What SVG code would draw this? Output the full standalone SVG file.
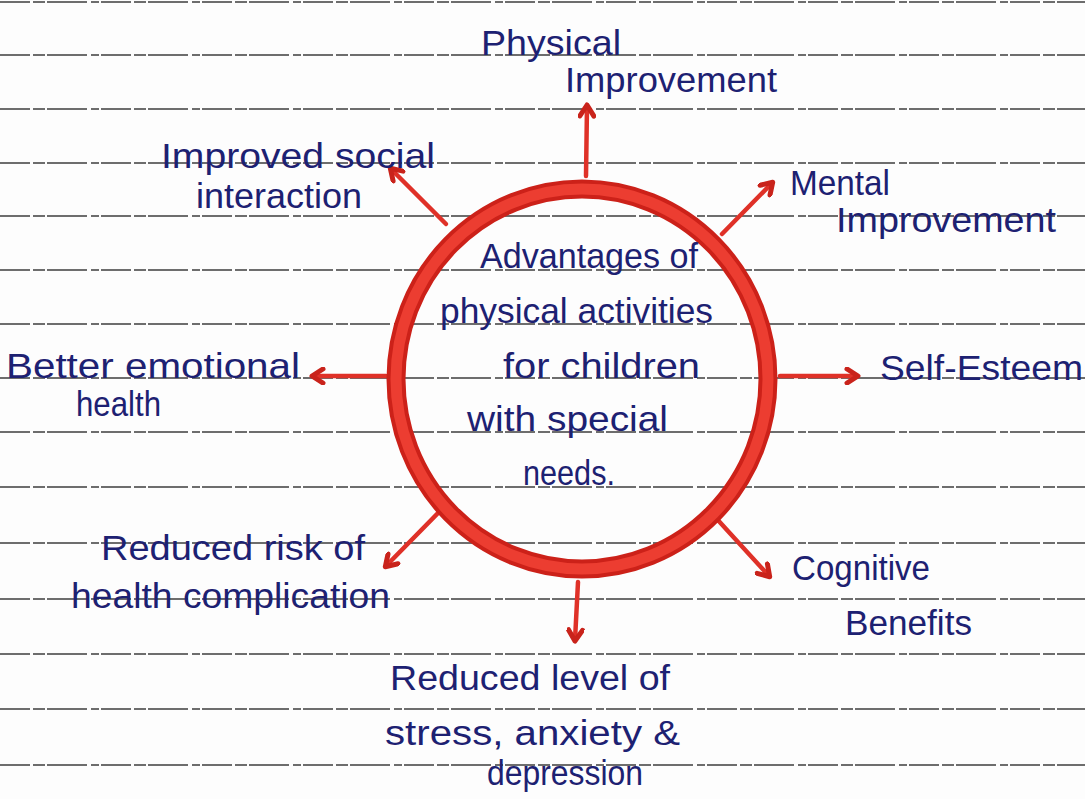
<svg xmlns="http://www.w3.org/2000/svg" width="1085" height="799" viewBox="0 0 1085 799">
<style>
.rule{stroke:#555;stroke-width:1.8;stroke-dasharray:30 3 12 2 40 4 8 2;opacity:0.85}
.t{font-family:"Liberation Sans","DejaVu Sans",sans-serif;font-size:35px;fill:#1d2172}
.c{stroke:#df3128;stroke-width:4.5;fill:none;stroke-linecap:round;marker-end:url(#ah)}
</style>
<defs>
<marker id="ah" viewBox="0 0 18 18" refX="13" refY="9" markerWidth="18" markerHeight="18" markerUnits="userSpaceOnUse" orient="auto">
<path d="M3,2 L14,9 L3,16" fill="none" stroke="#c9231b" stroke-width="5" stroke-linecap="round" stroke-linejoin="round"/>
</marker>
</defs>
<rect width="1085" height="799" fill="#fdfdfd"/>
<g id="ruled-lines">
<line class="rule" x1="0" y1="2" x2="1085" y2="2"/>
<line class="rule" x1="0" y1="55" x2="1085" y2="55"/>
<line class="rule" x1="0" y1="109" x2="1085" y2="109"/>
<line class="rule" x1="0" y1="163" x2="1085" y2="163"/>
<line class="rule" x1="0" y1="216" x2="1085" y2="216"/>
<line class="rule" x1="0" y1="270" x2="1085" y2="270"/>
<line class="rule" x1="0" y1="324" x2="1085" y2="324"/>
<line class="rule" x1="0" y1="378" x2="1085" y2="378"/>
<line class="rule" x1="0" y1="432" x2="1085" y2="432"/>
<line class="rule" x1="0" y1="487" x2="1085" y2="487"/>
<line class="rule" x1="0" y1="543" x2="1085" y2="543"/>
<line class="rule" x1="0" y1="599" x2="1085" y2="599"/>
<line class="rule" x1="0" y1="654" x2="1085" y2="654"/>
<line class="rule" x1="0" y1="709" x2="1085" y2="709"/>
<line class="rule" x1="0" y1="765" x2="1085" y2="765"/>
</g>
<g id="connectors">
<line class="c" x1="586" y1="176" x2="587" y2="106"/>
<line class="c" x1="722" y1="234" x2="772" y2="183"/>
<line class="c" x1="780" y1="376" x2="857" y2="376"/>
<line class="c" x1="716" y1="518" x2="769" y2="576"/>
<line class="c" x1="578" y1="582" x2="575" y2="640"/>
<line class="c" x1="443" y1="508" x2="386" y2="566"/>
<line class="c" x1="386" y1="376" x2="313" y2="376"/>
<line class="c" x1="446" y1="224" x2="391" y2="169"/>
</g>
<g id="center">
<ellipse cx="582" cy="379" rx="186" ry="190" fill="none" stroke="#cc2119" stroke-width="19"/>
<ellipse cx="582" cy="379" rx="186" ry="190" fill="none" stroke="#ec3d31" stroke-width="11"/>
<text class="t" x="480" y="268" textLength="218" lengthAdjust="spacingAndGlyphs">Advantages of</text>
<text class="t" x="440" y="323" textLength="273" lengthAdjust="spacingAndGlyphs">physical activities</text>
<text class="t" x="503" y="378" textLength="197" lengthAdjust="spacingAndGlyphs">for children</text>
<text class="t" x="467" y="431" textLength="201" lengthAdjust="spacingAndGlyphs">with special</text>
<text class="t" x="523" y="485" textLength="92" lengthAdjust="spacingAndGlyphs">needs.</text>
</g>
<g id="physical-improvement">
<text class="t" x="481" y="55" textLength="140" lengthAdjust="spacingAndGlyphs">Physical</text>
<text class="t" x="565" y="92" textLength="212" lengthAdjust="spacingAndGlyphs">Improvement</text>
</g>
<g id="mental-improvement">
<text class="t" x="790" y="195" textLength="100" lengthAdjust="spacingAndGlyphs">Mental</text>
<text class="t" x="836" y="232" textLength="220" lengthAdjust="spacingAndGlyphs">Improvement</text>
</g>
<g id="self-esteem">
<text class="t" x="880" y="380" textLength="203" lengthAdjust="spacingAndGlyphs">Self-Esteem</text>
</g>
<g id="cognitive-benefits">
<text class="t" x="792" y="580" textLength="138" lengthAdjust="spacingAndGlyphs">Cognitive</text>
<text class="t" x="845" y="635" textLength="127" lengthAdjust="spacingAndGlyphs">Benefits</text>
</g>
<g id="reduced-stress">
<text class="t" x="390" y="690" textLength="280" lengthAdjust="spacingAndGlyphs">Reduced level of</text>
<text class="t" x="385" y="745" textLength="295" lengthAdjust="spacingAndGlyphs">stress, anxiety &amp;</text>
<text class="t" x="487" y="785" textLength="156" lengthAdjust="spacingAndGlyphs">depression</text>
</g>
<g id="reduced-risk">
<text class="t" x="101" y="560" textLength="264" lengthAdjust="spacingAndGlyphs">Reduced risk of</text>
<text class="t" x="71" y="608" textLength="319" lengthAdjust="spacingAndGlyphs">health complication</text>
</g>
<g id="emotional-health">
<text class="t" x="6" y="378" textLength="294" lengthAdjust="spacingAndGlyphs">Better emotional</text>
<text class="t" x="76" y="416" textLength="85" lengthAdjust="spacingAndGlyphs">health</text>
</g>
<g id="social-interaction">
<text class="t" x="161" y="168" textLength="274" lengthAdjust="spacingAndGlyphs">Improved social</text>
<text class="t" x="196" y="208" textLength="166" lengthAdjust="spacingAndGlyphs">interaction</text>
</g>
</svg>
